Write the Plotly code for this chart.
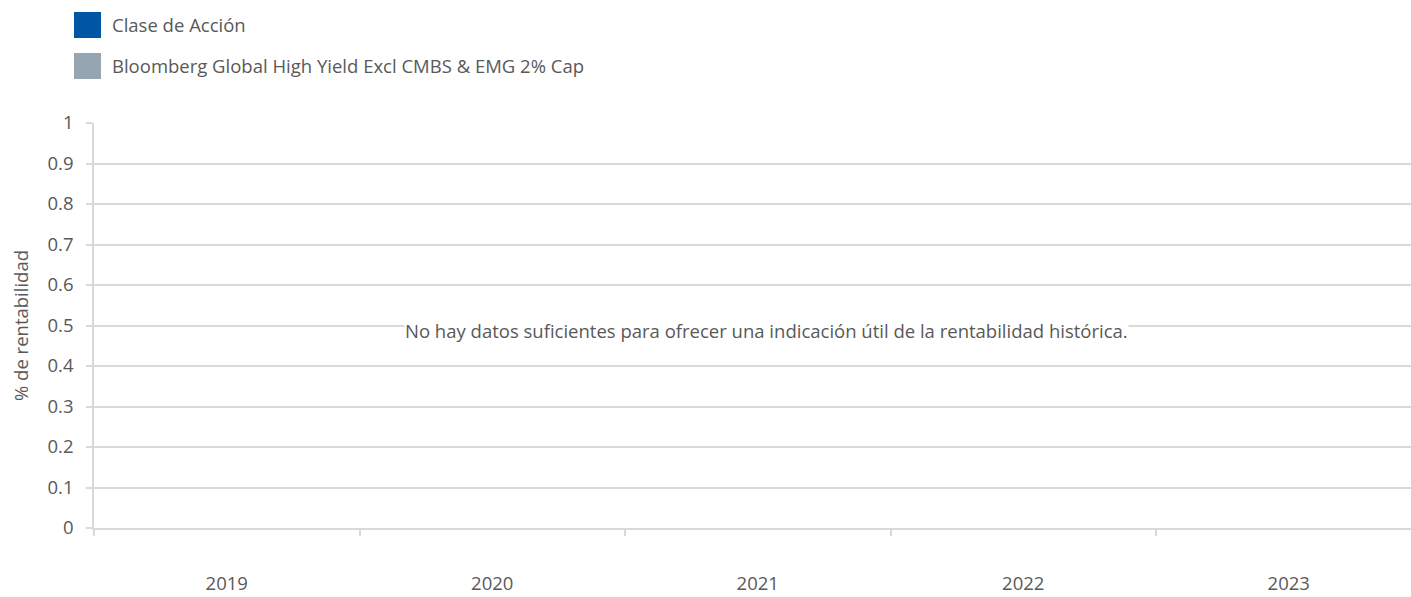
import plotly.graph_objects as go

# ---- data ----
categories = ["2019", "2020", "2021", "2022", "2023"]
series_names = ["Clase de Acción", "Bloomberg Global High Yield Excl CMBS & EMG 2% Cap"]
series_colors = ["#0055A4", "#95A5B2"]
class_values = [None, None, None, None, None]
index_values = [None, None, None, None, None]
y_ticks = [0, 0.1, 0.2, 0.3, 0.4, 0.5, 0.6, 0.7, 0.8, 0.9, 1]
message = "No hay datos suficientes para ofrecer una indicación útil de la rentabilidad histórica."
y_title = "% de rentabilidad"

W, H = 1411, 597
L, R, T, B = 94, 0, 123, 597 - 528
pw = W - L - R
ph = H - T - B

def px_x(p):
    return (p - L) / pw

def px_y(p):
    return (H - B - p) / ph

TEXT = "#595959"
GRID = "#d9d9d9"
FONT = "Open Sans"
FS = 18.5
CAT_W = 265.5

fig = go.Figure()
for name, vals, col in zip(series_names, [class_values, index_values], series_colors):
    fig.add_trace(go.Bar(x=categories, y=vals, name=name, marker_color=col, showlegend=False))

# custom legend
shapes = []
annotations = []
leg_rows = [25, 66]
for (name, col), cy in zip(zip(series_names, series_colors), leg_rows):
    shapes.append(dict(type="rect", xref="paper", yref="paper",
                       x0=px_x(74), x1=px_x(101), y0=px_y(cy - 13), y1=px_y(cy + 13),
                       fillcolor=col, line=dict(width=0)))
    annotations.append(dict(xref="paper", yref="paper", x=px_x(110), y=px_y(cy),
                            xanchor="left", yanchor="middle", text=name, showarrow=False,
                            font=dict(family=FONT, size=FS, color=TEXT)))

annotations.append(dict(xref="paper", yref="y", x=px_x(766), y=0.5, xanchor="center",
                        yanchor="middle", yshift=-5, text=message, showarrow=False,
                        bgcolor="white", borderpad=0,
                        font=dict(family=FONT, size=FS, color=TEXT)))

fig.update_layout(
    width=W, height=H,
    margin=dict(l=L, r=R, t=T, b=B, autoexpand=False),
    plot_bgcolor="white", paper_bgcolor="white",
    font=dict(family=FONT, size=FS, color=TEXT),
    barmode="group",
    shapes=shapes, annotations=annotations,
    xaxis=dict(
        type="category", categoryorder="array", categoryarray=categories,
        range=[-0.5, -0.5 + pw / CAT_W],
        showgrid=False, showline=True, linecolor=GRID, linewidth=1.5,
        ticks="outside", tickson="boundaries", ticklen=6, tickcolor=GRID, tickwidth=1.5,
        ticklabelstandoff=38, tickfont=dict(family=FONT, size=FS, color=TEXT),
        fixedrange=True,
    ),
    yaxis=dict(
        range=[0, 1], tickvals=y_ticks,
        showgrid=True, gridcolor=GRID, gridwidth=1.5, zeroline=False,
        showline=True, linecolor=GRID, linewidth=1.5,
        ticks="outside", ticklen=6, tickcolor=GRID, tickwidth=1.5,
        ticklabelstandoff=9, tickfont=dict(family=FONT, size=FS, color=TEXT),
        title=dict(text=y_title, standoff=14, font=dict(family=FONT, size=FS, color=TEXT)),
        fixedrange=True,
    ),
)

fig.write_html(
    "out.html",
    config={"displayModeBar": False},
    post_script=(
        "document.body.style.margin='0';"
        "document.documentElement.style.overflow='hidden';"
        "document.body.style.overflow='hidden';"
    ),
)
